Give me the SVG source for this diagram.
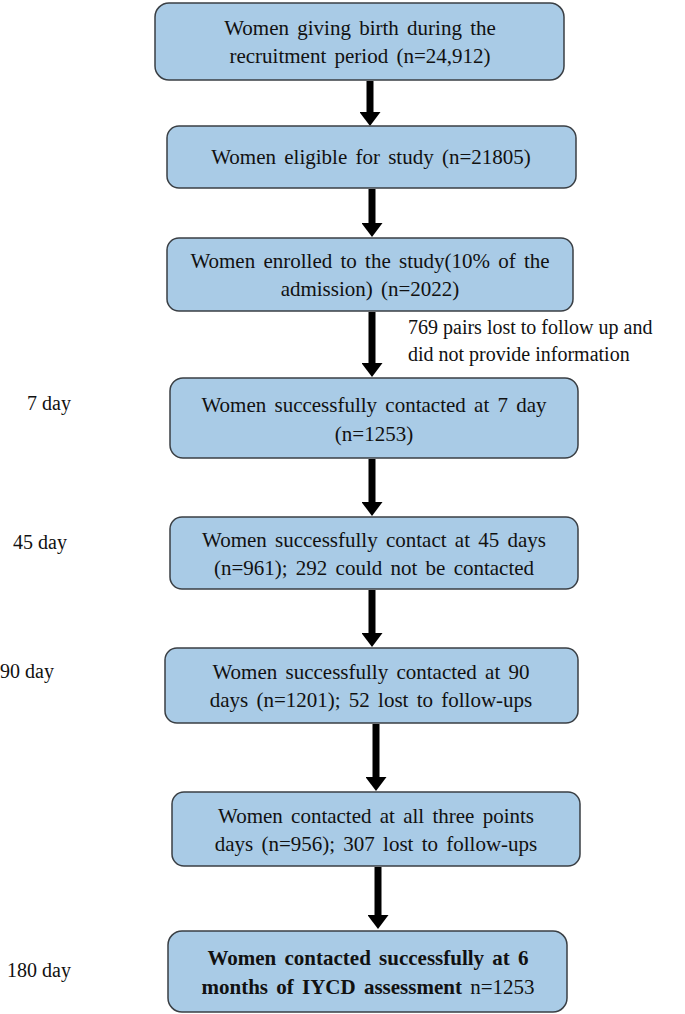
<svg xmlns="http://www.w3.org/2000/svg" width="685" height="1014" viewBox="0 0 685 1014">
<style>
.b{fill:#a9cbe6;stroke:#3a3f44;stroke-width:1.5}
.t{font-family:'Liberation Serif','Times New Roman','DejaVu Serif',serif;font-size:21px;word-spacing:3px;fill:#111;text-anchor:middle}
.l{font-family:'Liberation Serif','Times New Roman','DejaVu Serif',serif;font-size:20px;fill:#111}
</style>
<defs><marker id="a" markerWidth="4" markerHeight="3" refX="0" refY="1.5" orient="auto" markerUnits="strokeWidth"><path d="M0,0L2,1.5L0,3Z" fill="#000"/></marker></defs>
<g id="connectors" stroke="#000" stroke-width="7">
<line x1="370" y1="81" x2="370" y2="112" marker-end="url(#a)"/>
<line x1="372" y1="189" x2="372" y2="223" marker-end="url(#a)"/>
<line x1="372" y1="312" x2="372" y2="363" marker-end="url(#a)"/>
<line x1="372" y1="459" x2="372" y2="502" marker-end="url(#a)"/>
<line x1="372" y1="590" x2="372" y2="633" marker-end="url(#a)"/>
<line x1="376" y1="724" x2="376" y2="777" marker-end="url(#a)"/>
<line x1="378" y1="867" x2="378" y2="915" marker-end="url(#a)"/>
</g>
<g id="n1"><rect class="b" x="155" y="3" width="409" height="77" rx="14"/><text class="t" x="360" y="35">Women giving birth during the</text><text class="t" x="360" y="63">recruitment period (n=24,912)</text></g>
<g id="n2"><rect class="b" x="167" y="126" width="409" height="62" rx="12"/><text class="t" x="371" y="164">Women eligible for study (n=21805)</text></g>
<g id="n3"><rect class="b" x="167" y="238" width="406" height="73" rx="12"/><text class="t" x="370" y="268">Women enrolled to the study(10% of the</text><text class="t" x="370" y="296">admission) (n=2022)</text></g>
<g id="n3l"><text class="l" x="408" y="334">769 pairs lost to follow up and</text><text class="l" x="408" y="361">did not provide information</text></g>
<g id="n4"><rect class="b" x="170" y="378" width="408" height="80" rx="13"/><text class="t" x="374" y="412">Women successfully contacted at 7 day</text><text class="t" x="374" y="441">(n=1253)</text></g>
<g id="n5"><rect class="b" x="170" y="517" width="408" height="72" rx="12"/><text class="t" x="374" y="547">Women successfully contact at 45 days</text><text class="t" x="374" y="575">(n=961); 292 could not be contacted</text></g>
<g id="n6"><rect class="b" x="165" y="648" width="413" height="75" rx="12"/><text class="t" x="371" y="679">Women successfully contacted at 90</text><text class="t" x="371" y="707">days (n=1201); 52 lost to follow-ups</text></g>
<g id="n7"><rect class="b" x="172" y="792" width="408" height="74" rx="12"/><text class="t" x="376" y="823">Women contacted at all three points</text><text class="t" x="376" y="851">days (n=956); 307 lost to follow-ups</text></g>
<g id="n8"><rect class="b" x="168" y="931" width="399" height="81" rx="14"/><text class="t" x="368" y="965" font-weight="bold">Women contacted successfully at 6</text><text class="t" x="368" y="994"><tspan font-weight="bold">months of IYCD assessment </tspan>n=1253</text></g>
<g id="labels">
<text class="l" x="27" y="410">7 day</text>
<text class="l" x="13" y="549">45 day</text>
<text class="l" x="0" y="678">90 day</text>
<text class="l" x="7" y="977">180 day</text>
</g>
</svg>
